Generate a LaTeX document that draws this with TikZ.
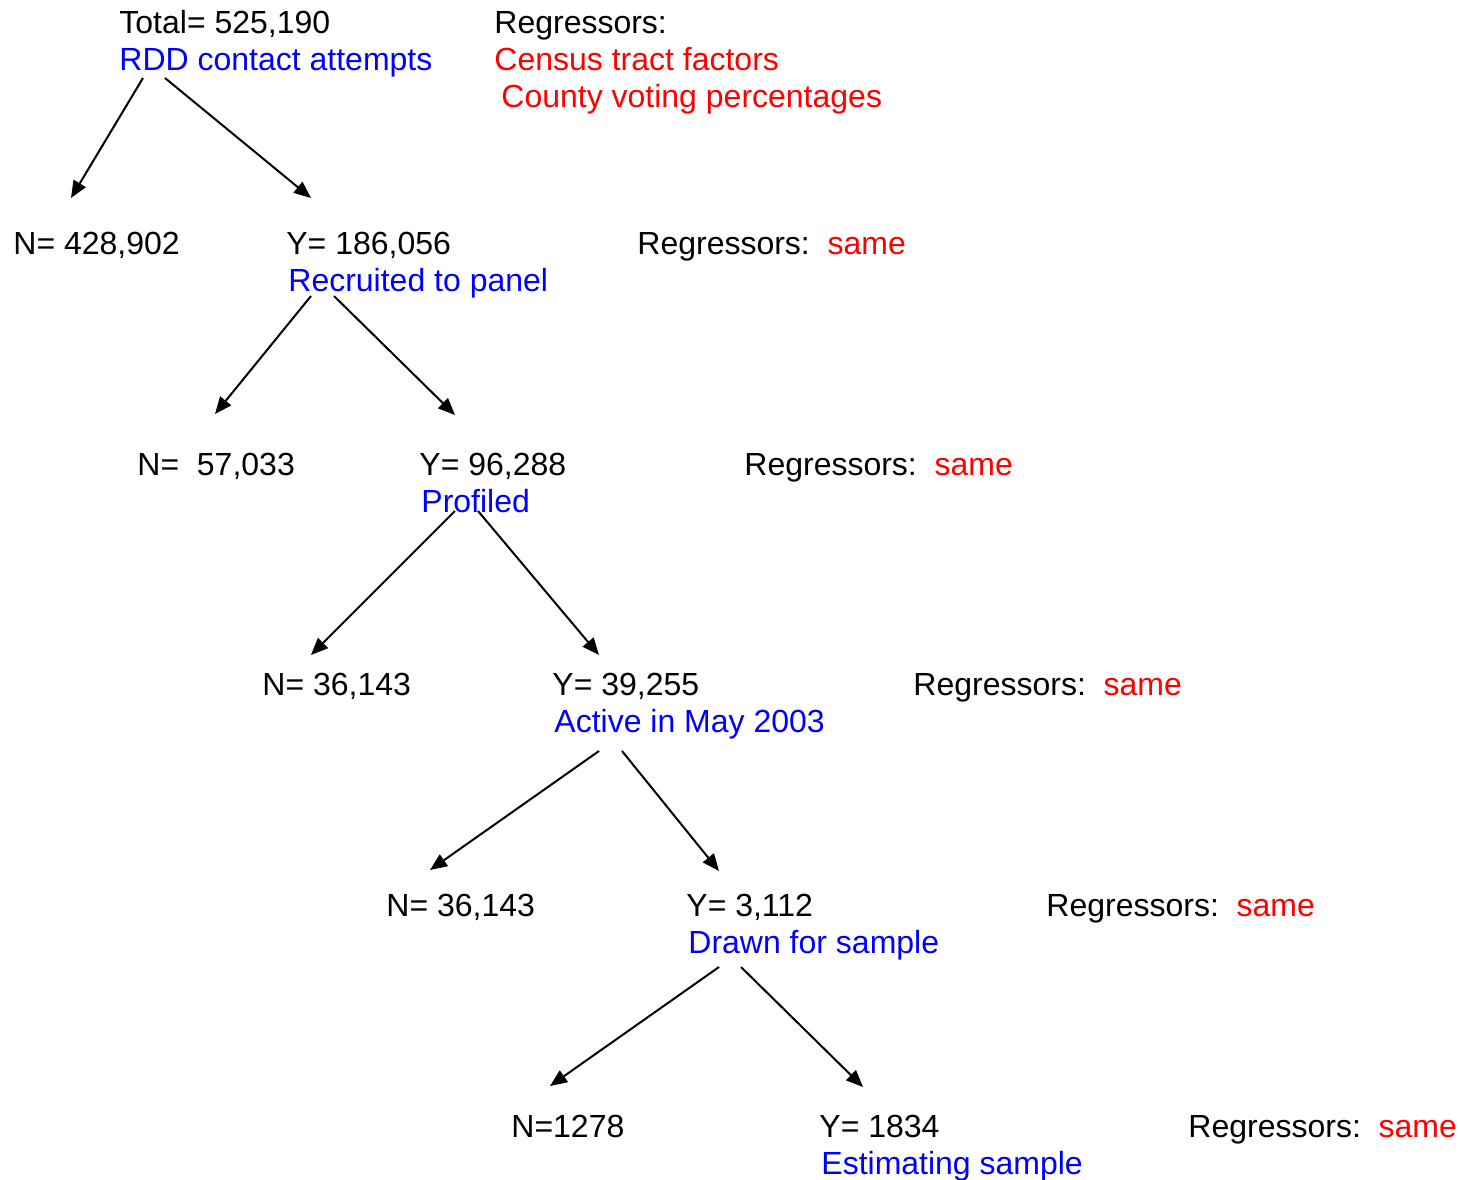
\documentclass[tikz,border=0pt]{standalone}
\usepackage{fontspec}
\setmainfont{Liberation Sans}
\usetikzlibrary{arrows.meta}
\usepackage{xcolor}

\tikzset{
  txt/.style={anchor=base west,inner sep=0pt,font=\fontsize{16}{18.5}\selectfont},
  lbl/.style={txt,text=blue,xshift=1pt,yshift=-18.5pt},
  reg/.style={txt,text=red},
  arr/.style={-{Triangle[length=8.5pt,width=7pt]},line width=1pt},
}
\newcommand{\regsame}{Regressors:\ \ \textcolor{red}{same}}

\begin{document}
\begin{tikzpicture}[x=0.5pt,y=-0.5pt]
\useasboundingbox (0,0) rectangle (1460,1179);

\node [txt] (tot) at (119,33) {Total= 525,190};
\node [lbl,at=(tot.base west),xshift=-1pt] (rdd) {RDD contact attempts};
\node [txt] (regs) at (494,33) {Regressors:};
\node [reg] (census) at (494,70) {Census tract factors};
\node [reg] (county) at (501,107) {County voting percentages};

\node [txt] (n1) at (13,254) {N= 428,902};
\node [txt] (y1) at (286,254) {Y= 186,056};
\node [lbl,at=(y1.base west)] (recr) {Recruited to panel};
\node [txt] (r1) at (637,254) {\regsame};

\node [txt] (n2) at (137,475) {N=\ \ 57,033};
\node [txt] (y2) at (419,475) {Y= 96,288};
\node [lbl,at=(y2.base west)] (prof) {Profiled};
\node [txt] (r2) at (744,475) {\regsame};

\node [txt] (n3) at (262,695) {N= 36,143};
\node [txt] (y3) at (552,695) {Y= 39,255};
\node [lbl,at=(y3.base west)] (active) {Active in May 2003};
\node [txt] (r3) at (913,695) {\regsame};

\node [txt] (n4) at (386,916) {N= 36,143};
\node [txt] (y4) at (686,916) {Y= 3,112};
\node [lbl,at=(y4.base west)] (drawn) {Drawn for sample};
\node [txt] (r4) at (1046,916) {\regsame};

\node [txt] (n5) at (511,1137) {N=1278};
\node [txt] (y5) at (819,1137) {Y= 1834};
\node [lbl,at=(y5.base west)] (est) {Estimating sample};
\node [txt] (r5) at (1188,1137) {\regsame};

% arrow ends
\coordinate (a0l) at (143,78);  \coordinate (a0r) at (165,78);
\coordinate (b0l) at (71,198);  \coordinate (b0r) at (311,198);
\coordinate (a1l) at (311,296); \coordinate (a1r) at (334,296);
\coordinate (b1l) at (215,414); \coordinate (b1r) at (455,415);
\coordinate (a2l) at (455,511); \coordinate (a2r) at (478,511);
\coordinate (b2l) at (311,655); \coordinate (b2r) at (599,655);
\coordinate (a3l) at (599,751); \coordinate (a3r) at (622,751);
\coordinate (b3l) at (430,870); \coordinate (b3r) at (719,871);
\coordinate (a4l) at (719,967); \coordinate (a4r) at (741,967);
\coordinate (b4l) at (550,1086); \coordinate (b4r) at (863,1087);

\draw [arr] (a0l) -- (b0l);
\draw [arr] (a0r) -- (b0r);
\draw [arr] (a1l) -- (b1l);
\draw [arr] (a1r) -- (b1r);
\draw [arr] (a2l) -- (b2l);
\draw [arr] (a2r) -- (b2r);
\draw [arr] (a3l) -- (b3l);
\draw [arr] (a3r) -- (b3r);
\draw [arr] (a4l) -- (b4l);
\draw [arr] (a4r) -- (b4r);
\end{tikzpicture}
\end{document}
